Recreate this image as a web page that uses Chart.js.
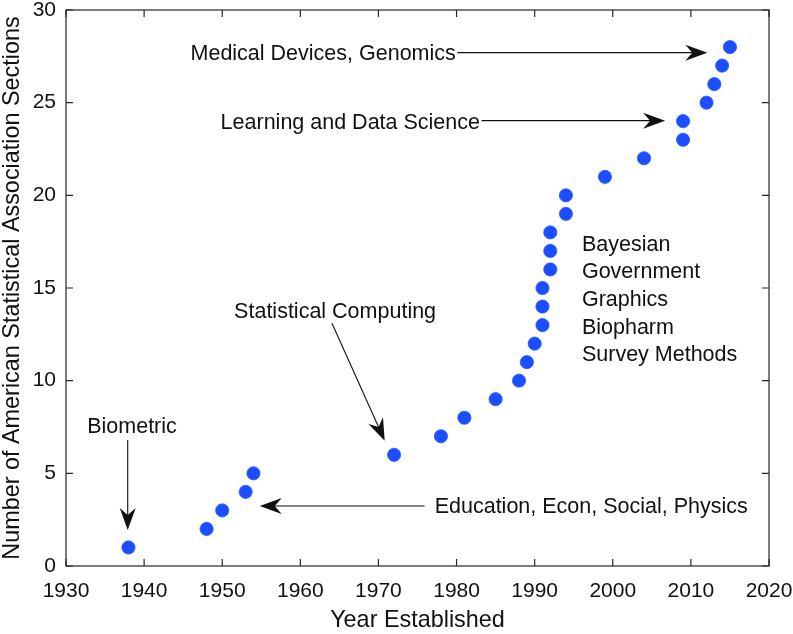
<!DOCTYPE html>
<html>
<head>
<meta charset="utf-8">
<style>
  html, body { margin: 0; padding: 0; background: #fff; }
  #wrap { width: 793px; height: 634px; position: relative; }
</style>
<script src="https://cdn.jsdelivr.net/npm/chart.js@4/dist/chart.umd.min.js"></script>
</head>
<body>
<div id="wrap"><canvas id="chart"></canvas></div>
<script>
// year each ASA section was established, and running count
var years = [1938, 1948, 1950, 1953, 1954, 1972, 1978, 1981, 1985, 1988, 1989, 1990,
             1991, 1991, 1991, 1992, 1992, 1992, 1994, 1994, 1999, 2004, 2009, 2009,
             2012, 2013, 2014, 2015];
var sections = [1, 2, 3, 4, 5, 6, 7, 8, 9, 10, 11, 12, 13, 14, 15, 16, 17, 18, 19, 20,
                21, 22, 23, 24, 25, 26, 27, 28];
var xTicks = [1930, 1940, 1950, 1960, 1970, 1980, 1990, 2000, 2010, 2020];
var yTicks = [0, 5, 10, 15, 20, 25, 30];

// labels with arrows, in data units
var arrowNotes = [
    { text: 'Medical Devices, Genomics', align: 'right', tx: 1979.9, ty: 27.6, from: [1980.1, 27.7], to: [2012.1, 27.7] },
    { text: 'Learning and Data Science', align: 'right', tx: 1983.0, ty: 23.9, from: [1983.2, 24.03], to: [2006.7, 24.03] },
    { text: 'Education, Econ, Social, Physics', align: 'left', tx: 1977.2, ty: 3.2, from: [1975.9, 3.24], to: [1954.8, 3.24] },
    { text: 'Statistical Computing', align: 'center', tx: 1964.45, ty: 13.72, from: [1964.05, 13.1], to: [1970.8, 6.76] },
    { text: 'Biometric', align: 'center', tx: 1938.45, ty: 7.52, from: [1937.9, 6.8], to: [1937.9, 1.94] }
];
var listNote = ['Bayesian', 'Government', 'Graphics', 'Biopharm', 'Survey Methods'];
var listY = [17.29, 15.85, 14.36, 12.86, 11.39];
var listX = 1996.05;

var FONT = '"Liberation Sans", Arial, Helvetica, sans-serif';
var INK = '#111';

function arrowHead(ctx, x0, y0, x1, y1) {
    var dx = x1 - x0, dy = y1 - y0;
    var len = Math.sqrt(dx * dx + dy * dy);
    var ux = dx / len, uy = dy / len;
    var nx = -uy, ny = ux;
    var L = 22, W = 8, N = 15;
    ctx.beginPath();
    ctx.moveTo(x1, y1);
    ctx.lineTo(x1 - L * ux + W * nx, y1 - L * uy + W * ny);
    ctx.lineTo(x1 - N * ux, y1 - N * uy);
    ctx.lineTo(x1 - L * ux - W * nx, y1 - L * uy - W * ny);
    ctx.closePath();
    ctx.fill();
    return [x1 - N * ux, y1 - N * uy];
}

var framePlugin = {
    id: 'frame',
    afterDatasetsDraw: function (chart) {
        var ctx = chart.ctx;
        var a = chart.chartArea;
        var xs = chart.scales.x, ys = chart.scales.y;
        ctx.save();
        ctx.strokeStyle = '#262626';
        ctx.lineWidth = 1.2;
        ctx.strokeRect(a.left, a.top, a.right - a.left, a.bottom - a.top);
        var tl = 7;
        ctx.beginPath();
        xTicks.forEach(function (v) {
            var px = xs.getPixelForValue(v);
            ctx.moveTo(px, a.bottom); ctx.lineTo(px, a.bottom - tl);
            ctx.moveTo(px, a.top); ctx.lineTo(px, a.top + tl);
        });
        yTicks.forEach(function (v) {
            var py = ys.getPixelForValue(v);
            ctx.moveTo(a.left, py); ctx.lineTo(a.left + tl, py);
            ctx.moveTo(a.right, py); ctx.lineTo(a.right - tl, py);
        });
        ctx.stroke();

        // annotations
        ctx.fillStyle = INK;
        ctx.strokeStyle = INK;
        ctx.lineWidth = 1.1;
        ctx.font = '21.5px ' + FONT;
        ctx.textBaseline = 'middle';
        arrowNotes.forEach(function (n) {
            ctx.textAlign = n.align;
            ctx.fillText(n.text, xs.getPixelForValue(n.tx), ys.getPixelForValue(n.ty));
            var x0 = xs.getPixelForValue(n.from[0]), y0 = ys.getPixelForValue(n.from[1]);
            var x1 = xs.getPixelForValue(n.to[0]), y1 = ys.getPixelForValue(n.to[1]);
            var end = arrowHead(ctx, x0, y0, x1, y1);
            ctx.beginPath();
            ctx.moveTo(x0, y0);
            ctx.lineTo(end[0], end[1]);
            ctx.stroke();
        });
        ctx.textAlign = 'left';
        listNote.forEach(function (t, i) {
            ctx.fillText(t, xs.getPixelForValue(listX), ys.getPixelForValue(listY[i]));
        });
        ctx.restore();
    }
};

var points = years.map(function (y, i) { return { x: y, y: sections[i] }; });

var ctx = document.getElementById('chart').getContext('2d');
var chart = new Chart(ctx, {
    type: 'scatter',
    data: {
        datasets: [{
            data: points,
            backgroundColor: '#1c4dff',
            borderColor: '#2a5cff',
            borderWidth: 0.8,
            pointRadius: 6.6,
            pointHoverRadius: 6.6
        }]
    },
    options: {
        responsive: true,
        maintainAspectRatio: false,
        animation: false,
        layout: { padding: { top: 10, right: 24, left: 0, bottom: 0 } },
        plugins: {
            legend: { display: false },
            tooltip: { enabled: false }
        },
        scales: {
            x: {
                type: 'linear',
                min: 1930,
                max: 2020,
                afterBuildTicks: function (scale) {
                    scale.ticks = xTicks.map(function (v) { return { value: v }; });
                },
                afterFit: function (scale) {
                    scale.height = 68;
                    scale.paddingLeft = 0;
                    scale.paddingRight = 0;
                },
                grid: { display: false, drawTicks: false },
                border: { display: false },
                ticks: {
                    padding: 13,
                    color: INK,
                    font: { family: FONT, size: 21 },
                    maxRotation: 0,
                    autoSkip: false,
                    callback: function (v) { return String(v); }
                },
                title: {
                    display: true,
                    text: 'Year Established',
                    color: INK,
                    font: { family: FONT, size: 23.4, lineHeight: 1.1 },
                    padding: { top: 0, bottom: 1 }
                }
            },
            y: {
                min: 0,
                max: 30,
                afterBuildTicks: function (scale) {
                    scale.ticks = yTicks.map(function (v) { return { value: v }; });
                },
                afterFit: function (scale) {
                    scale.width = 66;
                    scale.paddingTop = 0;
                    scale.paddingBottom = 0;
                },
                grid: { display: false, drawTicks: false },
                border: { display: false },
                ticks: {
                    padding: 10,
                    color: INK,
                    font: { family: FONT, size: 21 }
                },
                title: {
                    display: true,
                    text: 'Number of American Statistical Association Sections',
                    color: INK,
                    font: { family: FONT, size: 23.4, lineHeight: 1.1 },
                    padding: { top: 0, bottom: 0 }
                }
            }
        }
    },
    plugins: [framePlugin]
});
</script>
</body>
</html>
